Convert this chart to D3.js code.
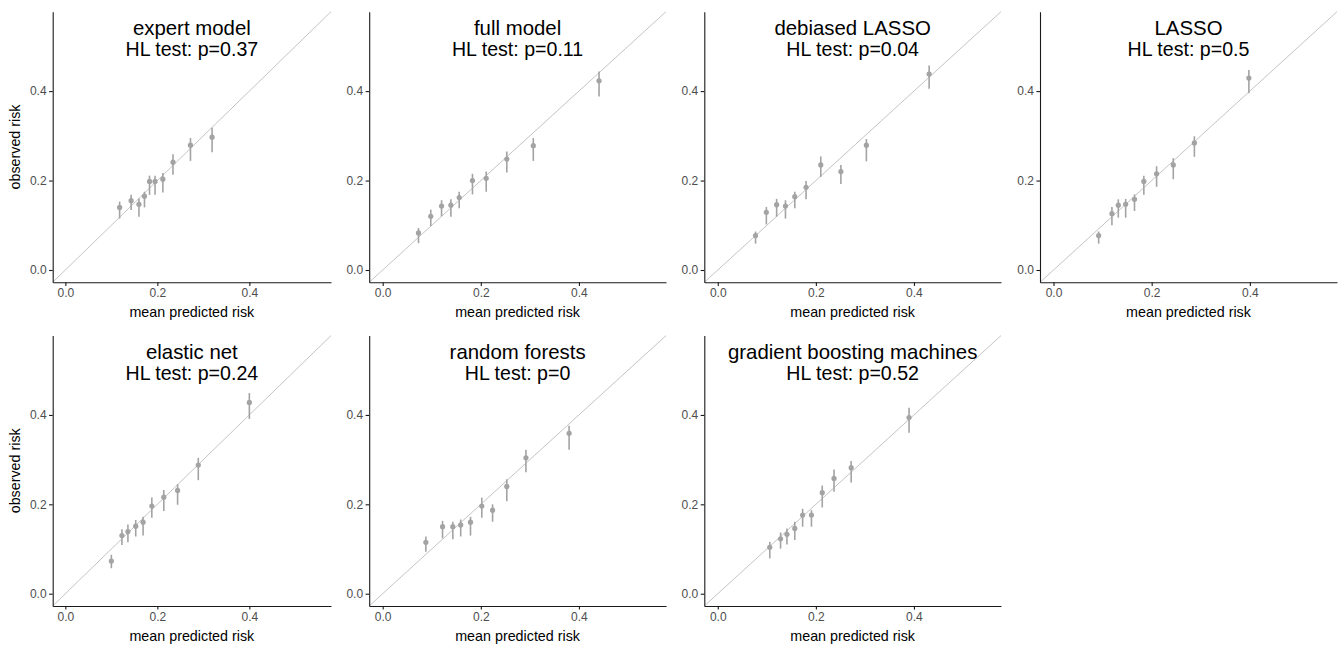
<!DOCTYPE html>
<html>
<head>
<meta charset="utf-8">
<script src="https://cdn.jsdelivr.net/npm/d3@7"></script>
<style>
  body { margin: 0; background: #fff; }
  svg { display: block; }
  text { font-family: "Liberation Sans", Arial, sans-serif; }
</style>
</head>
<body>
<svg id="chart" width="1344" height="650"></svg>
<script>
// ---- data ----
const modelNames = ["expert model", "full model", "debiased LASSO", "LASSO",
                    "elastic net", "random forests", "gradient boosting machines"];
const hlPValues = ["0.37", "0.11", "0.04", "0.5", "0.24", "0", "0.52"];
const tickValues = [0.0, 0.2, 0.4];

const expertPred = [0.118, 0.143, 0.160, 0.172, 0.183, 0.195, 0.212, 0.234, 0.272, 0.319];
const expertObs  = [0.140, 0.155, 0.147, 0.165, 0.198, 0.198, 0.203, 0.241, 0.279, 0.297];
const expertLo   = [0.115, 0.134, 0.119, 0.140, 0.168, 0.168, 0.173, 0.213, 0.244, 0.263];
const expertHi   = [0.153, 0.168, 0.160, 0.175, 0.211, 0.211, 0.217, 0.259, 0.295, 0.318];

const fullPred = [0.073, 0.098, 0.120, 0.139, 0.156, 0.183, 0.211, 0.253, 0.307, 0.441];
const fullObs  = [0.083, 0.120, 0.143, 0.145, 0.162, 0.200, 0.205, 0.248, 0.278, 0.423];
const fullLo   = [0.060, 0.098, 0.120, 0.119, 0.138, 0.169, 0.175, 0.218, 0.244, 0.388];
const fullHi   = [0.094, 0.135, 0.156, 0.158, 0.175, 0.215, 0.220, 0.265, 0.295, 0.444];

const debiasedPred = [0.077, 0.099, 0.120, 0.138, 0.157, 0.180, 0.210, 0.251, 0.303, 0.431];
const debiasedObs  = [0.077, 0.129, 0.146, 0.143, 0.164, 0.185, 0.235, 0.220, 0.279, 0.438];
const debiasedLo   = [0.059, 0.102, 0.119, 0.115, 0.138, 0.158, 0.208, 0.192, 0.243, 0.405];
const debiasedHi   = [0.086, 0.141, 0.159, 0.156, 0.175, 0.199, 0.254, 0.235, 0.293, 0.457];

const lassoPred = [0.092, 0.119, 0.132, 0.147, 0.165, 0.184, 0.210, 0.244, 0.287, 0.398];
const lassoObs  = [0.077, 0.126, 0.145, 0.147, 0.158, 0.198, 0.215, 0.235, 0.284, 0.429];
const lassoLo   = [0.059, 0.100, 0.117, 0.117, 0.132, 0.168, 0.186, 0.203, 0.253, 0.395];
const lassoHi   = [0.086, 0.141, 0.158, 0.159, 0.169, 0.211, 0.232, 0.250, 0.299, 0.447];

const enetPred = [0.100, 0.123, 0.136, 0.153, 0.169, 0.188, 0.214, 0.244, 0.289, 0.400];
const enetObs  = [0.073, 0.130, 0.139, 0.151, 0.160, 0.196, 0.216, 0.231, 0.288, 0.428];
const enetLo   = [0.057, 0.109, 0.115, 0.128, 0.130, 0.170, 0.185, 0.199, 0.254, 0.391];
const enetHi   = [0.087, 0.144, 0.155, 0.165, 0.172, 0.215, 0.232, 0.245, 0.304, 0.449];

const rfPred = [0.088, 0.122, 0.143, 0.159, 0.179, 0.202, 0.224, 0.253, 0.292, 0.380];
const rfObs  = [0.115, 0.150, 0.150, 0.154, 0.160, 0.196, 0.187, 0.240, 0.304, 0.359];
const rfLo   = [0.094, 0.124, 0.122, 0.128, 0.130, 0.170, 0.161, 0.207, 0.272, 0.322];
const rfHi   = [0.128, 0.163, 0.161, 0.166, 0.172, 0.215, 0.200, 0.256, 0.322, 0.376];

const gbmPred = [0.106, 0.128, 0.141, 0.157, 0.173, 0.191, 0.213, 0.237, 0.272, 0.390];
const gbmObs  = [0.104, 0.123, 0.133, 0.146, 0.176, 0.176, 0.226, 0.258, 0.282, 0.394];
const gbmLo   = [0.079, 0.101, 0.110, 0.120, 0.150, 0.150, 0.193, 0.228, 0.249, 0.360];
const gbmHi   = [0.116, 0.137, 0.146, 0.161, 0.190, 0.187, 0.242, 0.278, 0.297, 0.416];

const seriesPred = [expertPred, fullPred, debiasedPred, lassoPred, enetPred, rfPred, gbmPred];
const seriesObs  = [expertObs, fullObs, debiasedObs, lassoObs, enetObs, rfObs, gbmObs];
const seriesLo   = [expertLo, fullLo, debiasedLo, lassoLo, enetLo, rfLo, gbmLo];
const seriesHi   = [expertHi, fullHi, debiasedHi, lassoHi, enetHi, rfHi, gbmHi];

// ---- layout ----
const domainLo = -0.0275, domainHi = 0.5775;
const colLeft  = [52.7, 369.2, 704.3, 1040];
const colRight = [331, 666, 1001, 1337];
const rowTop    = [11.7, 335.6];
const rowBottom = [282.3, 606];

const svg = d3.select("#chart");
const axisColor = "#1a1a1a";
const tickTextColor = "#4d4d4d";
const markColor = "#a3a3a3";
const diagColor = "#c4c4c4";

modelNames.forEach((name, i) => {
  const col = i % 4, row = Math.floor(i / 4);
  const x0 = colLeft[col], x1 = colRight[col];
  const y0 = rowTop[row], y1 = rowBottom[row];

  const x = d3.scaleLinear().domain([domainLo, domainHi]).range([x0, x1]);
  const y = d3.scaleLinear().domain([domainLo, domainHi]).range([y1, y0]);

  const g = svg.append("g");

  // diagonal reference line
  g.append("line")
    .attr("x1", x(domainLo)).attr("y1", y(domainLo))
    .attr("x2", x(domainHi)).attr("y2", y(domainHi))
    .attr("stroke", diagColor).attr("stroke-width", 1);

  const pred = seriesPred[i], obs = seriesObs[i], lo = seriesLo[i], hi = seriesHi[i];
  const idx = d3.range(pred.length);

  // error bars
  g.selectAll("line.err").data(idx).join("line")
    .attr("class", "err")
    .attr("x1", d => x(pred[d])).attr("x2", d => x(pred[d]))
    .attr("y1", d => y(lo[d])).attr("y2", d => y(hi[d]))
    .attr("stroke", markColor).attr("stroke-width", 1.6);

  // points
  g.selectAll("circle").data(idx).join("circle")
    .attr("cx", d => x(pred[d])).attr("cy", d => y(obs[d]))
    .attr("r", 2.6).attr("fill", markColor);

  // axes
  const xAxis = d3.axisBottom(x).tickValues(tickValues).tickFormat(d3.format(".1f"))
    .tickSizeInner(3.6).tickSizeOuter(0).tickPadding(2.5);
  const yAxis = d3.axisLeft(y).tickValues(tickValues).tickFormat(d3.format(".1f"))
    .tickSizeInner(3.6).tickSizeOuter(0).tickPadding(2.5);

  const gx = g.append("g").attr("transform", `translate(0,${y1})`).call(xAxis);
  const gy = g.append("g").attr("transform", `translate(${x0},0)`).call(yAxis);
  [gx, gy].forEach(a => {
    a.select(".domain").attr("stroke", axisColor).attr("stroke-width", 1.1);
    a.selectAll(".tick line").attr("stroke", axisColor).attr("stroke-width", 1.1);
    a.selectAll(".tick text").attr("fill", tickTextColor)
      .style("font-size", "12px").style("font-family", "'Liberation Sans', Arial, sans-serif");
  });

  // x axis title
  g.append("text")
    .attr("x", (x0 + x1) / 2).attr("y", y1 + 35)
    .attr("text-anchor", "middle").attr("fill", "#000")
    .style("font-size", "14.3px")
    .text("mean predicted risk");

  // y axis title on first column
  if (col === 0) {
    g.append("text")
      .attr("transform", `translate(${x0 - 33},${(y0 + y1) / 2}) rotate(-90)`)
      .attr("text-anchor", "middle").attr("fill", "#000")
      .style("font-size", "14.3px")
      .text("observed risk");
  }

  // panel title and HL test
  const cx = (x0 + x1) / 2;
  g.append("text")
    .attr("x", cx).attr("y", y0 + 23.3)
    .attr("text-anchor", "middle").attr("fill", "#000")
    .style("font-size", "20.4px")
    .text(name);
  g.append("text")
    .attr("x", cx).attr("y", y0 + 44)
    .attr("text-anchor", "middle").attr("fill", "#000")
    .style("font-size", "19.6px")
    .text("HL test: p=" + hlPValues[i]);
});
</script>
</body>
</html>
